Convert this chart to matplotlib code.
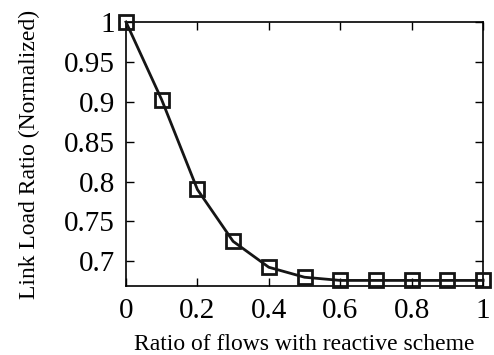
import matplotlib
matplotlib.use('Agg')
import matplotlib.pyplot as plt

# data
ratio = [0.0, 0.1, 0.2, 0.3, 0.4, 0.5, 0.6, 0.7, 0.8, 0.9, 1.0]
load = [1.0, 0.9025, 0.79, 0.725, 0.6925, 0.68, 0.676, 0.676, 0.676, 0.676, 0.676]

xticks = [0, 0.2, 0.4, 0.6, 0.8, 1]
xtick_labels = ['0', '0.2', '0.4', '0.6', '0.8', '1']
yticks = [0.7, 0.75, 0.8, 0.85, 0.9, 0.95, 1]
ytick_labels = ['0.7', '0.75', '0.8', '0.85', '0.9', '0.95', '1']

plt.rcParams['font.family'] = 'Liberation Serif'

fig = plt.figure(figsize=(4.94, 3.55), dpi=100)
ax = fig.add_axes([126 / 494, 1 - 286 / 355, (483 - 126) / 494, (286 - 22) / 355])

ax.plot(ratio, load, color='#151515', lw=2, marker='s', ms=10,
        mfc='none', mec='#151515', mew=2, clip_on=False, zorder=3)

ax.set_xlim(0, 1)
ax.set_ylim(0.669, 1.0)
ax.set_xticks(xticks)
ax.set_xticklabels(xtick_labels)
ax.set_yticks(yticks)
ax.set_yticklabels(ytick_labels)
ax.tick_params(direction='in', length=6, width=1, top=True, right=True,
               labelsize=21, pad=8)
ax.tick_params(axis='x', pad=9)
for s in ax.spines.values():
    s.set_linewidth(1.2)

ax.set_xlabel('Ratio of flows with reactive scheme', fontsize=17, labelpad=7)
ax.set_ylabel('Link Load Ratio (Normalized)', fontsize=17, labelpad=17)

fig.savefig('out.png', dpi=100)
